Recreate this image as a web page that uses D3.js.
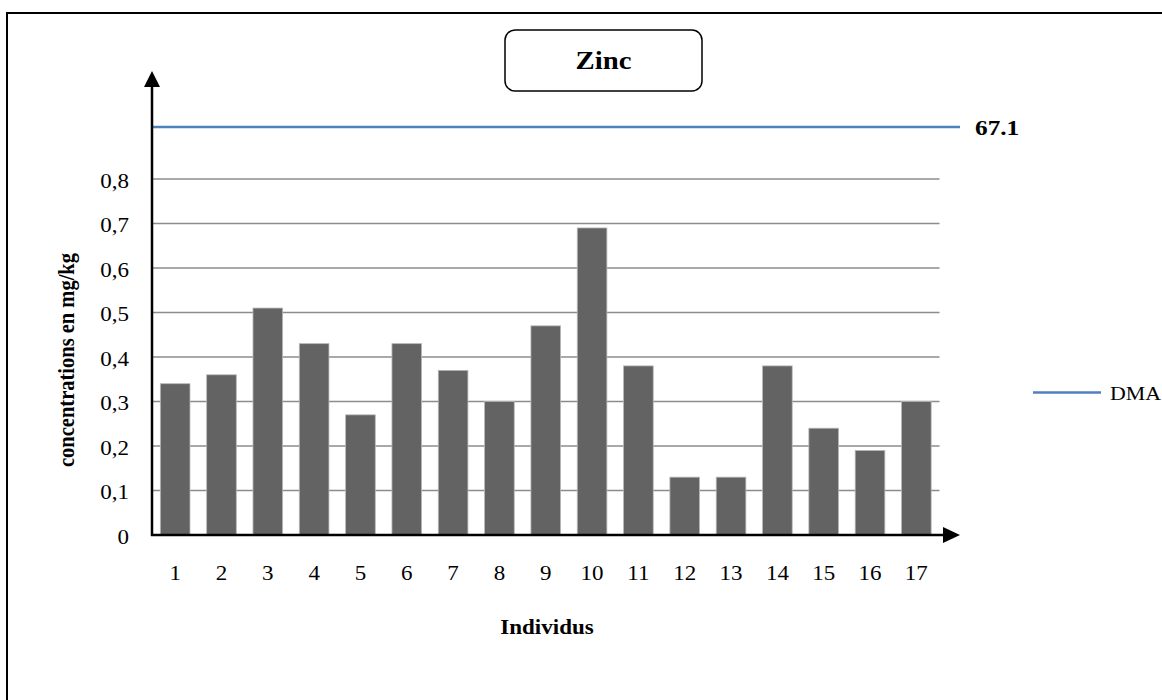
<!DOCTYPE html>
<html><head><meta charset="utf-8">
<script src="https://cdn.jsdelivr.net/npm/d3@7"></script>
<style>body{margin:0;background:#fff}svg{display:block;font-family:"Liberation Serif","Times New Roman",serif}</style>
</head><body>
<svg id="c" width="1162" height="700"></svg>
<script>
const categories = ["1","2","3","4","5","6","7","8","9","10","11","12","13","14","15","16","17"];
const values = [0.34,0.36,0.51,0.43,0.27,0.43,0.37,0.30,0.47,0.69,0.38,0.13,0.13,0.38,0.24,0.19,0.30];
const yTicks = [0,0.1,0.2,0.3,0.4,0.5,0.6,0.7,0.8];
const dmaLabel = "67.1";
const dmaLevel = 0.917; // drawn level on the (broken) axis
const title = "Zinc";
const legendName = "DMA";

const svg = d3.select("#c");
const left = 152, right = 939.5, base = 535, top0 = 179;
const SX = 1.15; // horizontal stretch of the reference's text
const x = d3.scaleBand().domain(categories).range([left, right]).paddingInner(0.36).paddingOuter(0.18);
const y = d3.scaleLinear().domain([0, 0.8]).range([base, top0]);

function htext(g, px, py, size, str, opts = {}) {
  return g.append("text")
    .attr("transform", `translate(${px},${py}) scale(${SX},1)`)
    .attr("text-anchor", opts.anchor || "start")
    .attr("font-weight", opts.bold ? "bold" : "normal")
    .attr("font-size", size).text(str);
}

// outer frame
svg.append("rect").attr("x",7).attr("y",13).attr("width",1200).attr("height",800)
  .attr("fill","none").attr("stroke","#000").attr("stroke-width",2);

// gridlines
svg.append("g").selectAll("line").data(yTicks.filter(d=>d>0)).join("line")
  .attr("x1",left).attr("x2",right).attr("y1",d=>y(d)).attr("y2",d=>y(d))
  .attr("stroke","#8c8c8c").attr("stroke-width",1.6);

// bars
svg.append("g").selectAll("rect").data(values).join("rect")
  .attr("x",(d,i)=>x(categories[i])).attr("width",x.bandwidth())
  .attr("y",d=>y(d)).attr("height",d=>base-y(d))
  .attr("fill","#636363").attr("stroke","#b8b8b8").attr("stroke-width",0.8);

// DMA line
svg.append("line").attr("x1",left).attr("x2",960).attr("y1",y(dmaLevel)).attr("y2",y(dmaLevel))
  .attr("stroke","#4f81bd").attr("stroke-width",2.5);
htext(svg, 975, y(dmaLevel)+8, 22, dmaLabel, {bold:true});

// axes with arrows
svg.append("line").attr("x1",left).attr("x2",left).attr("y1",base+1).attr("y2",86)
  .attr("stroke","#000").attr("stroke-width",2.5);
svg.append("path").attr("d",`M${left},71 L${left-8},87 L${left+8},87 Z`).attr("fill","#000");
svg.append("line").attr("x1",left-1).attr("x2",944).attr("y1",base).attr("y2",base)
  .attr("stroke","#000").attr("stroke-width",2.5);
svg.append("path").attr("d",`M960,${base} L943,${base-8} L943,${base+8} Z`).attr("fill","#000");

// y tick labels
const yg = svg.append("g");
yTicks.forEach(d => htext(yg, 129, y(d)+8.5, 20, d===0 ? "0" : d3.format(".1f")(d).replace(".",","), {anchor:"end"}));

// x tick labels
const xg = svg.append("g");
categories.forEach(d => htext(xg, x(d)+x.bandwidth()/2, 580, 20, d, {anchor:"middle"}));

// axis titles
htext(svg, 547, 634, 20, "Individus", {anchor:"middle", bold:true});
svg.append("text").attr("transform",`translate(74,360) rotate(-90) scale(1,${SX})`).attr("text-anchor","middle")
  .attr("font-weight","bold").attr("font-size",20.5).text("concentrations en mg/kg");

// title box
svg.append("rect").attr("x",505).attr("y",30).attr("width",197).attr("height",61).attr("rx",10)
  .attr("fill","#fff").attr("stroke","#000").attr("stroke-width",1.5);
htext(svg, 603.5, 69, 25, title, {anchor:"middle", bold:true});

// legend
svg.append("line").attr("x1",1033).attr("x2",1101).attr("y1",392.5).attr("y2",392.5)
  .attr("stroke","#4f81bd").attr("stroke-width",2.5);
htext(svg, 1110, 400, 19, legendName);
</script>
</body></html>
